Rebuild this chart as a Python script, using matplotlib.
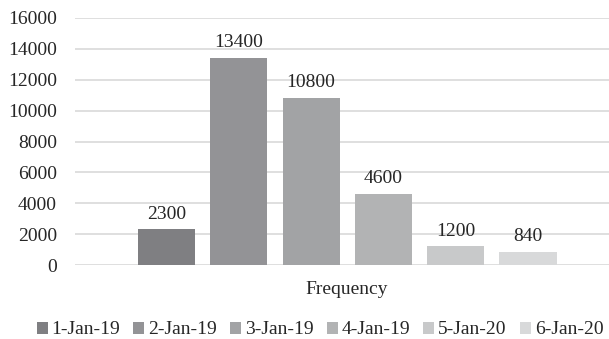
import matplotlib
matplotlib.use("Agg")
import matplotlib.pyplot as plt
from matplotlib.patches import Patch

series = ["1-Jan-19", "2-Jan-19", "3-Jan-19", "4-Jan-19", "5-Jan-20", "6-Jan-20"]
values = [2300, 13400, 10800, 4600, 1200, 840]
colors = ["#7f7f82", "#939396", "#a2a3a5", "#b2b3b4", "#c8c9ca", "#d8d9da"]
category = "Frequency"
yticks = [0, 2000, 4000, 6000, 8000, 10000, 12000, 14000, 16000]

plt.rcParams['font.family'] = ['Liberation Serif', 'DejaVu Serif']

W, H = 609, 339
fig = plt.figure(figsize=(W / 100, H / 100), dpi=100)
ax = fig.add_axes([75 / W, 74 / H, (W - 75) / W, 247 / H])

xs = list(range(len(values)))
bars = ax.bar(xs, values, width=0.79, color=colors, zorder=3)
for x, v in zip(xs, values):
    ax.annotate(f"{v}", (x, v), xytext=(0, 5), textcoords="offset points",
                ha="center", va="bottom", fontsize=14, color="#262626")

ax.set_xlim(-1.266, 6.12)
ax.set_ylim(0, 16000)
ax.set_yticks(yticks)
ax.set_yticklabels([str(t) for t in yticks], fontsize=14, color="#262626")
ax.tick_params(axis='y', length=0, pad=13)
ax.set_xticks([])
ax.grid(axis='y', color="#d9d9d9", linewidth=1.2, zorder=0)
for s in ax.spines.values():
    s.set_visible(False)

fig.text(346.5 / W, 1 - 290 / H, category, ha="center", va="center",
         fontsize=14, color="#262626")

handles = [Patch(facecolor=c, edgecolor='none', label=s) for s, c in zip(series, colors)]
fig.legend(handles=handles, loc="center", bbox_to_anchor=(320 / W, 1 - 330 / H),
           ncol=6, frameon=False, fontsize=14, handlelength=0.57, handleheight=0.57,
           handletextpad=0.2, columnspacing=0.67, labelcolor="#262626",
           borderpad=0, borderaxespad=0)

fig.savefig("out.png", dpi=100, facecolor="white")
